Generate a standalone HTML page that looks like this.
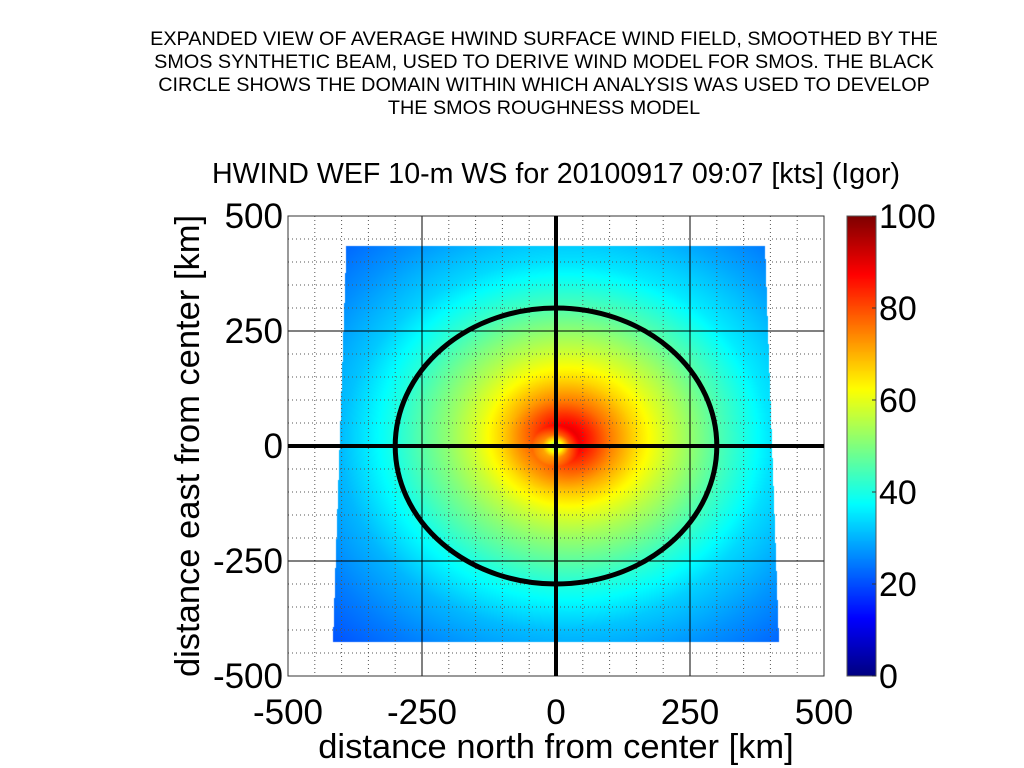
<!DOCTYPE html>
<html><head><meta charset="utf-8"><style>
html,body{margin:0;padding:0;background:#fff;width:1024px;height:768px;overflow:hidden;font-family:"Liberation Sans",sans-serif;}
#wrap{position:relative;width:1024px;height:768px;}
.t{position:absolute;white-space:nowrap;}
</style></head><body><div id="wrap">
<div class="t" style="left:0;width:1088px;top:28px;text-align:center;font-size:19.8px;line-height:23px;">EXPANDED VIEW OF AVERAGE HWIND SURFACE WIND FIELD, SMOOTHED BY THE<br>SMOS SYNTHETIC BEAM, USED TO DERIVE WIND MODEL FOR SMOS. THE BLACK<br>CIRCLE SHOWS THE DOMAIN WITHIN WHICH ANALYSIS WAS USED TO DEVELOP<br>THE SMOS ROUGHNESS MODEL</div>
<div class="t" style="left:212px;top:158px;font-size:28.6px;">HWIND WEF 10-m WS for 20100917 09:07 [kts] (Igor)</div>
<canvas id="cv" width="1024" height="768" style="position:absolute;left:0;top:0"></canvas>
<svg id="sv" width="1024" height="768" style="position:absolute;left:0;top:0"></svg>
</div>
<script>
const radiiKm=[0,10,25,45,70,100,150,200,250,300,400,500,600];
const windKts=[45,60,75,83,78,71,62,55,49,43,33,27,22];
const asymDirDeg=[40];
const asymAmp=[0.08];
const xTicks=[-500,-250,0,250,500];
const yTicks=[-500,-250,0,250,500];
const cbTicks=[0,20,40,60,80,100];
const domainKm=[[-391,435],[390,435],[416,-425],[-416,-425]];
const circleKm=[300];

const PX0=288,PX1=824,PY0=216,PY1=676;
const sx=v=>PX0+(v+500)/1000*(PX1-PX0);
const sy=v=>PY1-(v+500)/1000*(PY1-PY0);
const ix=p=>(p-PX0)/(PX1-PX0)*1000-500;
const iy=p=>(PY1-p)/(PY1-PY0)*1000-500;
function jet(v){const t=Math.max(0,Math.min(1,v/100));
 const f=x=>Math.max(0,Math.min(1,1.5-Math.abs(4*t-x)));
 return [f(3)*255,f(2)*255,f(1)*255];}
function prof(r){for(let i=1;i<radiiKm.length;i++){if(r<=radiiKm[i]){const a=(r-radiiKm[i-1])/(radiiKm[i]-radiiKm[i-1]);return windKts[i-1]+a*(windKts[i]-windKts[i-1]);}}return windKts[windKts.length-1];}
function inside(x,y,p){let c=false;for(let i=0,j=p.length-1;i<p.length;j=i++){const [xi,yi]=p[i],[xj,yj]=p[j];if(((yi>y)!=(yj>y))&&(x<(xj-xi)*(y-yi)/(yj-yi)+xi))c=!c;}return c;}
const ctx=document.getElementById('cv').getContext('2d');
const img=ctx.createImageData(PX1-PX0,PY1-PY0);
const ad=asymDirDeg[0]*Math.PI/180;
for(let py=0;py<PY1-PY0;py++)for(let px=0;px<PX1-PX0;px++){
 const X=ix(PX0+px+.5),Y=iy(PY0+py+.5);const k=(py*(PX1-PX0)+px)*4;
 if(!inside(X,Y,domainKm)){img.data[k]=img.data[k+1]=img.data[k+2]=255;img.data[k+3]=255;continue;}
 const r=Math.hypot(X,Y);const th=Math.atan2(Y,X);
 const v=prof(r)*(1+asymAmp[0]*Math.cos(th-ad)*Math.min(1,r/40));
 const c=jet(v);img.data[k]=c[0];img.data[k+1]=c[1];img.data[k+2]=c[2];img.data[k+3]=255;}
ctx.putImageData(img,PX0,PY0);
const CX0=847,CX1=876;
for(let y=PY0;y<PY1;y++){const c=jet((PY1-y)/(PY1-PY0)*100);ctx.fillStyle=`rgb(${c[0]|0},${c[1]|0},${c[2]|0})`;ctx.fillRect(CX0,y,CX1-CX0,1);}

const NS='http://www.w3.org/2000/svg';const sv=document.getElementById('sv');
function el(t,a,txt){const e=document.createElementNS(NS,t);for(const k in a)e.setAttribute(k,a[k]);if(txt!==undefined)e.textContent=txt;sv.appendChild(e);return e;}
for(let v=-450;v<500;v+=50){if(v%250===0)continue;
 let e=el('line',{x1:sx(v),x2:sx(v),y1:PY0,y2:PY1,stroke:'#555','stroke-width':1,'stroke-dasharray':'1,3'});
 
 e=el('line',{y1:sy(v),y2:sy(v),x1:PX0,x2:PX1,stroke:'#555','stroke-width':1,'stroke-dasharray':'1,3'});
 }
xTicks.forEach(v=>{let e=el('line',{x1:sx(v),x2:sx(v),y1:PY0,y2:PY1,stroke:'#000','stroke-width':1});
 
 e=el('text',{x:sx(v),y:724,'font-size':35,'text-anchor':'middle','font-family':'Liberation Sans'},String(v));
 });
yTicks.forEach(v=>{let e=el('line',{y1:sy(v),y2:sy(v),x1:PX0,x2:PX1,stroke:'#000','stroke-width':1});
 
 e=el('text',{x:283,y:sy(v)+12,'font-size':35,'text-anchor':'end','font-family':'Liberation Sans'},String(v));
 });
let e=el('rect',{x:PX0,y:PY0,width:PX1-PX0,height:PY1-PY0,fill:'none',stroke:'#333','stroke-width':1});

e=el('line',{x1:sx(0),x2:sx(0),y1:PY0,y2:PY1,stroke:'#000','stroke-width':4});

e=el('line',{x1:PX0,x2:PX1,y1:sy(0),y2:sy(0),stroke:'#000','stroke-width':4});

e=el('ellipse',{cx:sx(0),cy:sy(0),rx:sx(circleKm[0])-sx(0),ry:sy(0)-sy(circleKm[0]),fill:'none',stroke:'#000','stroke-width':5});

e=el('rect',{x:CX0,y:PY0,width:CX1-CX0,height:PY1-PY0,fill:'none',stroke:'#555','stroke-width':1});

cbTicks.forEach(v=>{const y=PY1-v/100*(PY1-PY0);
 let t=el('line',{x1:CX1-4,x2:CX1,y1:y,y2:y,stroke:'#333'});
 
 t=el('text',{x:879,y:y+12,'font-size':34,'font-family':'Liberation Sans'},String(v));
 });
e=el('text',{x:556,y:758,'font-size':34.5,'text-anchor':'middle','font-family':'Liberation Sans'},'distance north from center [km]');

e=el('text',{x:0,y:0,'font-size':34.5,'text-anchor':'middle','font-family':'Liberation Sans',transform:'translate(199,446) rotate(-90)'},'distance east from center [km]');

</script></body></html>
